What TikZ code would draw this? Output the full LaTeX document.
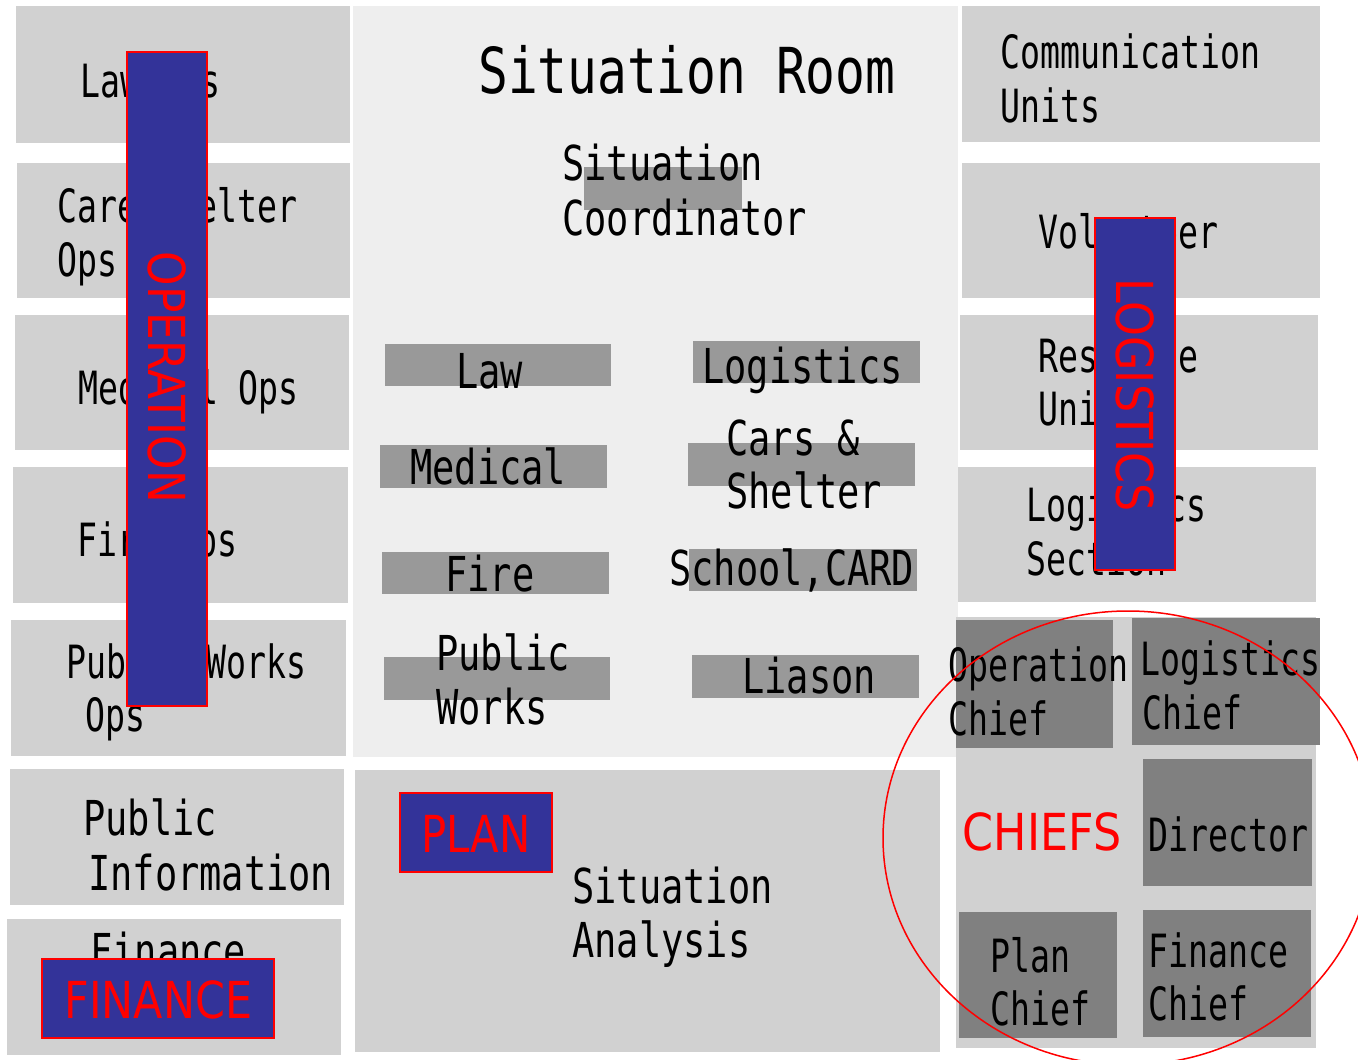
\documentclass[tikz,border=0pt]{standalone}
\usepackage{fontspec}
\newfontfamily\gothic{DejaVu Sans Mono}
\newfontfamily\tah{DejaVu Sans}
\definecolor{boxgray}{HTML}{D1D1D1}
\definecolor{roomgray}{HTML}{EEEEEE}
\definecolor{bargray}{HTML}{999999}
\definecolor{chiefgray}{HTML}{808080}
\definecolor{labelblue}{HTML}{333399}
\begin{document}
\begin{tikzpicture}[x=1pt,y=-1pt,
  sm/.style={inner sep=0pt, anchor=base west, font=\gothic\fontsize{33.2}{40}\selectfont, yscale=1.38},
  md/.style={inner sep=0pt, anchor=base west, font=\gothic\fontsize{37}{44}\selectfont, yscale=1.3},
  lg/.style={inner sep=0pt, anchor=base west, font=\gothic\fontsize{49.5}{60}\selectfont, yscale=1.28},
  tag/.style={inner sep=0pt, anchor=base, text=red, font=\tah\fontsize{51}{60}\selectfont},
  tagbox/.style={fill=labelblue, draw=red, line width=2},
  ]
\useasboundingbox (0,0) rectangle (1358,1060);
\clip (0,0) rectangle (1358,1060);
\fill[white] (0,0) rectangle (1358,1060);
% left column
\fill[boxgray] (16,6) rectangle (350,143);
\fill[boxgray] (17,163) rectangle (350,298);
\fill[boxgray] (15,315) rectangle (349,450);
\fill[boxgray] (13,467) rectangle (348,603);
\fill[boxgray] (11,620) rectangle (346,756);
\fill[boxgray] (10,769) rectangle (344,905);
\fill[boxgray] (7,919) rectangle (341,1055);
% centre
\fill[roomgray] (353,6) rectangle (958,757);
\fill[boxgray] (355,770) rectangle (940,1052);
\fill[bargray] (584,167) rectangle (742,210);
\fill[bargray] (385,344) rectangle (611,386);
\fill[bargray] (693,341) rectangle (920,383);
\fill[bargray] (380,445) rectangle (607,488);
\fill[bargray] (688,443) rectangle (915,486);
\fill[bargray] (382,552) rectangle (609,594);
\fill[bargray] (689,549) rectangle (917,591);
\fill[bargray] (384,657) rectangle (610,700);
\fill[bargray] (692,655) rectangle (919,698);
% right column
\fill[boxgray] (962,6) rectangle (1320,142);
\fill[boxgray] (962,163) rectangle (1320,298);
\fill[boxgray] (960,315) rectangle (1318,450);
\fill[boxgray] (958,467) rectangle (1316,602);
\fill[boxgray] (956,617) rectangle (1316,1048);
\fill[chiefgray] (956,620) rectangle (1113,748);
\fill[chiefgray] (1132,618) rectangle (1320,745);
\fill[chiefgray] (1143,759) rectangle (1312,886);
\fill[chiefgray] (959,912) rectangle (1117,1038);
\fill[chiefgray] (1143,910) rectangle (1311,1037);
% left texts
\node[sm] (lawops) at (80,97) {Law Ops};
\node[sm] (care1) at (57,222) {Care\&Shelter};
\node[sm] (care2) at (57,276) {Ops};
\node[sm] (medops) at (78,404) {Medical Ops};
\node[sm] (fireops) at (77,556) {Fire Ops};
\node[sm] (pw1) at (66,678) {Public Works};
\node[sm] (pw2) at (85,731) {Ops};
\node[md] (pi1) at (83,835) {Public};
\node[md] (pi2) at (88,890) {Information};
\node[md] (fin) at (90,968) {Finance};
% centre texts
\node[lg] (room) at (478,93) {Situation Room};
\node[md] (sc1) at (562,180) {Situation};
\node[md] (sc2) at (562,235) {Coordinator};
\node[md] (law) at (456,388) {Law};
\node[md] (logi) at (702,383) {Logistics};
\node[md] (med) at (410,484) {Medical};
\node[md] (cars1) at (726,455) {Cars \&};
\node[md] (cars2) at (726,508) {Shelter};
\node[md] (fire) at (445,591) {Fire};
\node[md] (school) at (669,585) {School,CARD};
\node[md] (pub1) at (436,670) {Public};
\node[md] (pub2) at (436,724) {Works};
\node[md] (liason) at (742,693) {Liason};
\node[md] (sa1) at (572,903) {Situation};
\node[md] (sa2) at (572,957) {Analysis};
% right texts
\node[sm] (com1) at (1000,68) {Communication};
\node[sm] (com2) at (1000,122) {Units};
\node[sm] (vol) at (1038,248) {Volunteer};
\node[sm] (res1) at (1038,372) {Resource};
\node[sm] (res2) at (1038,425) {Unit};
\node[sm] (ls1) at (1026,521) {Logistics};
\node[sm] (ls2) at (1026,575) {Section};
\node[sm] (oc1) at (948,681) {Operation};
\node[sm] (oc2) at (948,735) {Chief};
\node[sm] (lc1) at (1140,675) {Logistics};
\node[sm] (lc2) at (1142,729) {Chief};
\node[sm] (dir) at (1148,851) {Director};
\node[sm] (pc1) at (990,972) {Plan};
\node[sm] (pc2) at (990,1025) {Chief};
\node[sm] (fc1) at (1148,967) {Finance};
\node[sm] (fc2) at (1148,1020) {Chief};
% overlay labels
\filldraw[tagbox] (127,52) rectangle (207,706);
\node[tag, rotate=-90] (operation) at (148,377.5) {\scalebox{0.86}[1]{OPERATION}};
\filldraw[tagbox] (1095,218) rectangle (1175,570);
\node[tag, rotate=-90] (logistics) at (1116,395) {\scalebox{0.87}[1]{LOGISTICS}};
\filldraw[tagbox] (42,959) rectangle (274,1038);
\node[tag] (finance) at (158.5,1018) {\scalebox{0.84}[1]{FINANCE}};
\filldraw[tagbox] (400,793) rectangle (552,872);
\node[tag] (plan) at (476,852) {\scalebox{0.82}[1]{PLAN}};
\node[tag] (chiefs) at (1042,850) {\scalebox{0.87}[1]{CHIEFS}};
\draw[red, line width=1.5] (1128,838) ellipse [x radius=245, y radius=227];
\end{tikzpicture}
\end{document}
